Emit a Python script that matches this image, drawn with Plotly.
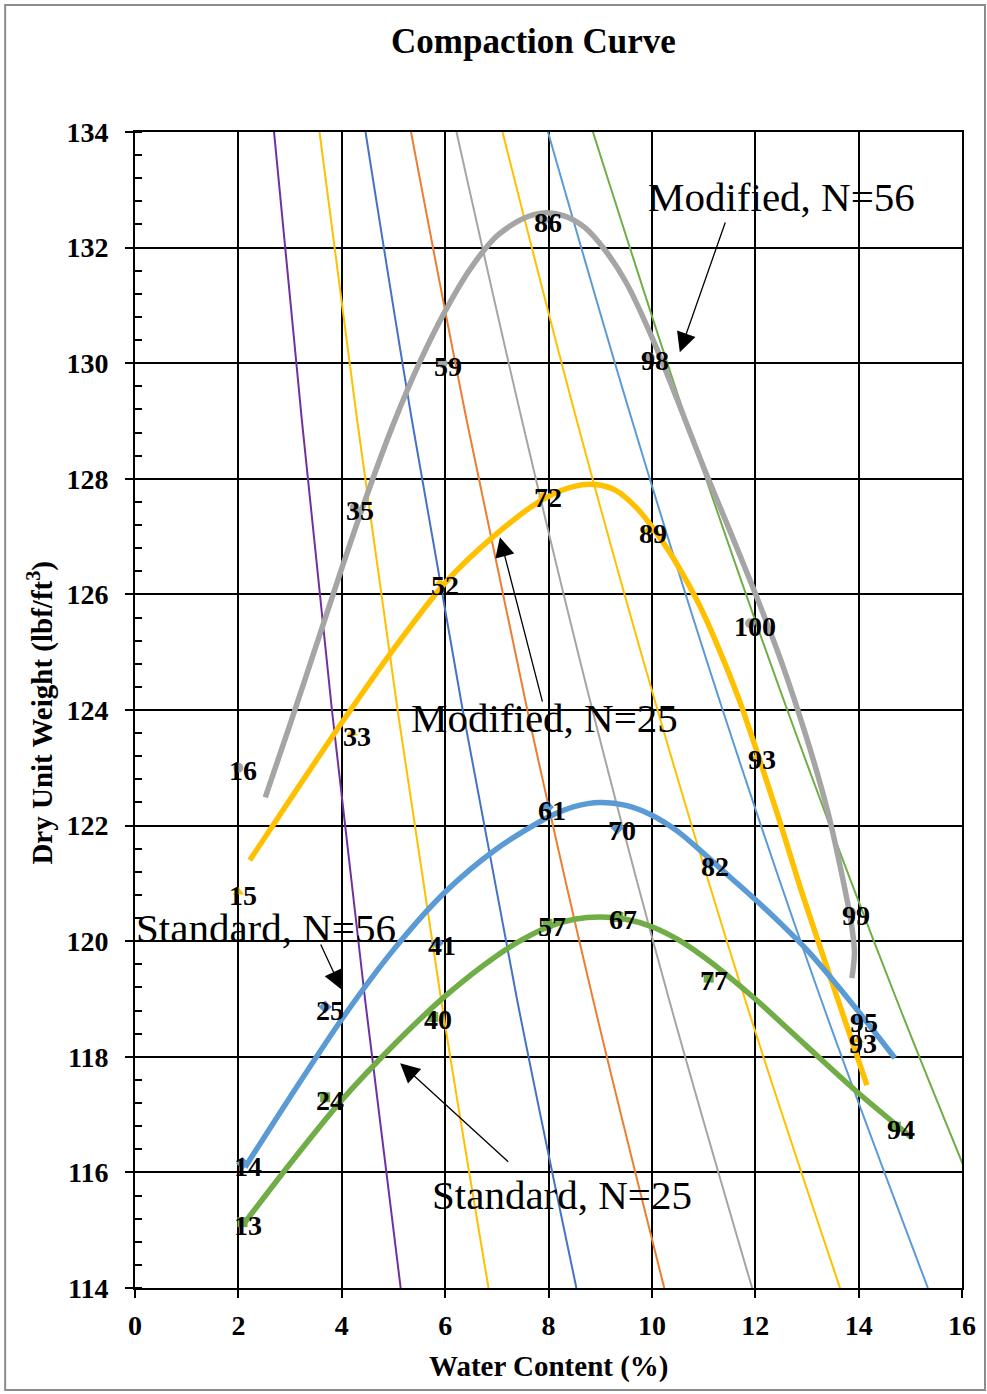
import plotly.graph_objects as go

# ---------------- data ----------------
# Saturation lines: water content (%) at the dry unit weights in sat_gamma
sat_gamma = [134, 129, 124, 119, 114]
sat_w = {
    "S30": [2.69, 3.23, 3.81, 4.45, 5.14],
    "S40": [3.57, 4.30, 5.08, 5.92, 6.84],
    "S50": [4.46, 5.36, 6.34, 7.39, 8.54],
    "S60": [5.34, 6.42, 7.59, 8.86, 10.24],
    "S70": [6.22, 7.49, 8.85, 10.33, 11.94],
    "S80": [7.11, 8.55, 10.11, 11.80, 13.64],
    "S90": [7.99, 9.62, 11.37, 13.27, 15.34],
    "S100": [8.86, 10.67, 12.62, 14.73, 17.00],
}

# Fitted compaction curves
mod56_curve_w = [2.52, 3.0, 3.5, 4.0, 4.5, 5.0, 5.5, 6.0, 6.5, 7.0, 7.5, 7.9, 8.3, 8.7, 9.1, 9.5,
                 10.0, 10.5, 11.0, 11.5, 12.0, 12.5, 13.0, 13.4, 13.7, 13.86, 13.92, 13.87]
mod56_curve_g = [122.49, 123.75, 125.1, 126.45, 127.75, 128.95, 130.0, 130.9, 131.65, 132.2, 132.5,
                 132.6, 132.55, 132.35, 131.95, 131.4, 130.45, 129.35, 128.2, 127.12, 126.02, 124.85,
                 123.5, 122.25, 121.05, 120.3, 119.8, 119.36]

mod25_curve_w = [2.22, 3.0, 4.0, 5.0, 6.0, 7.0, 7.9, 8.5, 8.9, 9.3, 9.7, 10.1, 10.5, 10.9, 11.3,
                 11.7, 12.1, 12.5, 12.9, 13.5, 14.16]
mod25_curve_g = [121.4, 122.45, 123.78, 125.05, 126.2, 127.05, 127.65, 127.87, 127.9, 127.8, 127.5,
                 127.05, 126.5, 125.85, 125.05, 124.15, 123.1, 122.0, 120.85, 119.25, 117.51]

std56_curve_w = [2.13, 3.0, 4.0, 5.0, 6.0, 7.0, 8.0, 8.5, 9.0, 9.5, 10.0, 10.5, 11.0, 11.5, 12.0,
                 12.5, 13.0, 13.5, 14.0, 14.7]
std56_curve_g = [116.09, 117.3, 118.65, 119.85, 120.85, 121.6, 122.15, 122.33, 122.4, 122.35, 122.18,
                 121.9, 121.52, 121.12, 120.72, 120.3, 119.85, 119.33, 118.78, 117.98]

std25_curve_w = [2.13, 3.0, 4.0, 5.0, 6.0, 7.0, 7.5, 8.0, 8.5, 9.0, 9.5, 10.0, 10.5, 11.0, 11.5,
                 12.0, 13.0, 14.0, 15.03]
std25_curve_g = [115.14, 116.15, 117.25, 118.2, 119.05, 119.75, 120.03, 120.25, 120.38, 120.42, 120.38,
                 120.25, 120.03, 119.73, 119.38, 119.0, 118.18, 117.37, 116.6]

# Test points with labels
mod56_w = [2.0, 4.25, 5.95, 7.9, 9.96, 11.9, 13.85]
mod56_g = [123.0, 127.5, 130.0, 132.48, 130.1, 125.5, 120.5]
mod56_lbl = ["16", "35", "59", "86", "98", "100", "99"]

mod25_w = [2.0, 4.2, 5.9, 7.9, 9.92, 12.03, 13.99]
mod25_g = [120.85, 123.6, 126.2, 127.72, 127.1, 123.19, 118.29]
mod25_lbl = ["15", "33", "52", "72", "89", "93", "93"]

std56_w = [2.08, 3.68, 5.85, 7.98, 9.33, 11.12, 14.0]
std56_g = [116.16, 118.86, 119.97, 122.32, 121.96, 121.35, 118.64]
std56_lbl = ["14", "25", "41", "61", "70", "82", "95"]

std25_w = [2.08, 3.68, 5.77, 7.98, 9.35, 11.1, 14.72]
std25_g = [115.14, 117.3, 118.69, 120.3, 120.42, 119.37, 116.79]
std25_lbl = ["13", "24", "40", "57", "67", "77", "94"]

x_ticks = [0, 2, 4, 6, 8, 10, 12, 14, 16]
y_ticks = [114, 116, 118, 120, 122, 124, 126, 128, 130, 132, 134]

# ---------------- styling ----------------
FONT = "Liberation Serif"
sat_colors = {
    "S30": "#7030A0", "S40": "#FFC000", "S50": "#4472C4", "S60": "#ED7D31",
    "S70": "#A5A5A5", "S80": "#FFC000", "S90": "#5B9BD5", "S100": "#70AD47",
}

fig = go.Figure()

for key, ws in sat_w.items():
    fig.add_trace(go.Scatter(x=ws, y=sat_gamma, mode="lines", line=dict(color=sat_colors[key], width=2, shape="spline"),
                             hoverinfo="skip", showlegend=False))

curves = [
    (mod56_curve_w, mod56_curve_g, "#A5A5A5"),
    (mod25_curve_w, mod25_curve_g, "#FFC000"),
    (std56_curve_w, std56_curve_g, "#5B9BD5"),
    (std25_curve_w, std25_curve_g, "#70AD47"),
]
for cw, cg, col in curves:
    fig.add_trace(go.Scatter(x=cw, y=cg, mode="lines", line=dict(color=col, width=5.5, shape="spline", smoothing=0.8),
                             showlegend=False))

points = [
    (mod56_w, mod56_g, mod56_lbl, "#A5A5A5", "circle"),
    (mod25_w, mod25_g, mod25_lbl, "#FFC000", "triangle-up"),
    (std56_w, std56_g, std56_lbl, "#5B9BD5", "diamond"),
    (std25_w, std25_g, std25_lbl, "#70AD47", "square"),
]
annots = []
for pw, pg, pl, col, sym in points:
    fig.add_trace(go.Scatter(x=pw, y=pg, mode="markers", marker=dict(color=col, symbol=sym, size=10),
                             showlegend=False))
    for xv, yv, lb in zip(pw, pg, pl):
        annots.append(dict(text=lb, x=xv, y=yv, xref="x", yref="y", showarrow=False,
                           xanchor="center", yanchor="middle", xshift=5, yshift=-3,
                           font=dict(family=FONT, size=28, color="black", weight="bold")))

axis_common = dict(
    showline=True, linecolor="black", linewidth=2, mirror=True,
    showgrid=True, gridcolor="black", gridwidth=2,
    ticks="outside", ticklen=8, tickwidth=2, tickcolor="black",
    tickfont=dict(family=FONT, size=28, color="black", weight="bold"),
    zeroline=False,
)

fig.update_xaxes(range=[0, 16], tickvals=x_ticks, ticklabelstandoff=3, **axis_common)
fig.update_yaxes(range=[114, 134], tickvals=y_ticks, ticklabelstandoff=11,
                 minor=dict(ticks="inside", dtick=0.4, ticklen=7, tickwidth=2, tickcolor="black", showgrid=False),
                 **axis_common)

# titles
annots.append(dict(text="Compaction Curve", x=0.482, y=1.0779, xref="paper", yref="paper", showarrow=False,
                   xanchor="center", yanchor="middle",
                   font=dict(family=FONT, size=35, color="black", weight="bold")))
annots.append(dict(text="Water Content (%)", x=0.5006, y=-0.0675, xref="paper", yref="paper", showarrow=False,
                   xanchor="center", yanchor="middle",
                   font=dict(family=FONT, size=29, color="black", weight="bold")))
annots.append(dict(text="Dry Unit Weight (lbf/ft<sup>3</sup>)", x=-0.1145, y=0.498, xref="paper", yref="paper",
                   showarrow=False, textangle=-90, xanchor="center", yanchor="middle",
                   font=dict(family=FONT, size=29, color="black", weight="bold")))

# callouts
callouts = [
    ("Modified, N=56", 12.5, 132.88, 10.54, 130.19, 11.43, 132.46),
    ("Modified, N=25", 7.93, 123.86, 7.06, 126.99, 7.89, 124.12),
    ("Standard, N=56", 2.53, 120.23, 4.0, 119.16, 3.58, 119.97),
    ("Standard, N=25", 8.26, 115.61, 5.13, 117.89, 7.25, 116.16),
]
for txt, tx, ty, hx, hy, sx, sy in callouts:
    annots.append(dict(text=txt, x=tx, y=ty, xref="x", yref="y", showarrow=False,
                       xanchor="center", yanchor="middle",
                       font=dict(family=FONT, size=41, color="black")))
    annots.append(dict(text="", x=hx, y=hy, ax=sx, ay=sy, xref="x", yref="y", axref="x", ayref="y",
                       showarrow=True, arrowhead=2, arrowsize=3, arrowwidth=1.3, arrowcolor="black",
                       standoff=0, startstandoff=0))

fig.update_layout(
    width=987, height=1394,
    margin=dict(l=135, r=25, t=132, b=106),
    plot_bgcolor="white", paper_bgcolor="white",
    annotations=annots,
    shapes=[dict(type="rect", xref="paper", yref="paper", x0=-0.157, x1=1.0278, y0=-0.0882, y1=1.1098,
                 line=dict(color="#8C8C8C", width=2), layer="below")],
)

fig.write_html("out.html", config={"displayModeBar": False},
               post_script="document.body.style.margin='0px';")
